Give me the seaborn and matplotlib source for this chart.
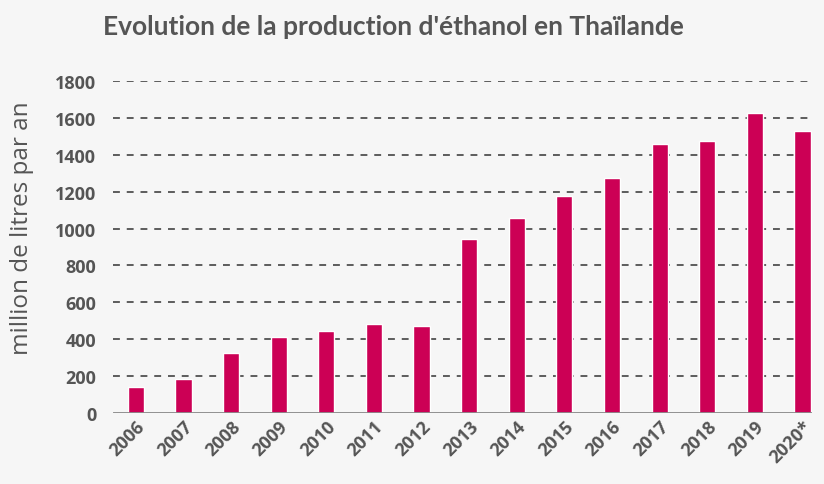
import matplotlib
matplotlib.use("Agg")
import matplotlib.pyplot as plt
import seaborn as sns
import pandas as pd

years = ["2006", "2007", "2008", "2009", "2010", "2011", "2012", "2013",
         "2014", "2015", "2016", "2017", "2018", "2019", "2020*"]
production = [140, 183, 326, 412, 443, 484, 470, 943,
              1057, 1174, 1272, 1459, 1475, 1625, 1531]
y_ticks = [0, 200, 400, 600, 800, 1000, 1200, 1400, 1600, 1800]

title = "Evolution de la production d'éthanol en Thaïlande"
y_label = "million de litres par an"

bg = "#f6f6f6"
bar_color = "#cc0055"
text_color = "#555555"

sns.set_theme(style="white")
plt.rcParams["font.family"] = ["Open Sans", "DejaVu Sans"]

df = pd.DataFrame({"annee": years, "production": production})

fig = plt.figure(figsize=(8.24, 4.85), dpi=100, facecolor=bg)
ax = fig.add_axes([113 / 824, 1 - 414 / 485, (812 - 113) / 824, (414 - 82) / 485])
ax.set_facecolor(bg)

sns.barplot(data=df, x="annee", y="production", color=bar_color,
            width=0.34, saturation=1, ax=ax, zorder=3)

ax.set_xlim(-0.48, 14.2)
ax.set_ylim(0, 1800)
ax.set_yticks(y_ticks)
ax.set_yticklabels([str(v) for v in y_ticks], fontsize=13,
                   fontweight="bold", color=text_color)

for v in y_ticks[1:]:
    ax.axhline(v, color="#333333", lw=1.1, ls=(0, (4.5, 4.5)), zorder=1)
ax.axhline(0, color="#888888", lw=2, zorder=4)

for s in ax.spines.values():
    s.set_visible(False)
ax.tick_params(axis="y", length=0, pad=12)
ax.tick_params(axis="x", length=0, pad=3)
ax.set_xticks(range(len(years)))
ax.set_xticklabels(years, rotation=45, ha="right", rotation_mode="anchor",
                   fontsize=13, fontweight="bold", color=text_color)

ax.set_xlabel("")
ax.set_ylabel(y_label, fontsize=17.5, color=text_color)
ax.yaxis.set_label_coords(-0.113, 0.56)

fig.text(103 / 824, 1 - 27 / 485, title, fontsize=19, fontweight="bold",
         color=text_color, ha="left", va="center",
         family=["Liberation Sans Narrow", "Lato", "DejaVu Sans"])

fig.savefig("out.png", dpi=100, facecolor=bg)
